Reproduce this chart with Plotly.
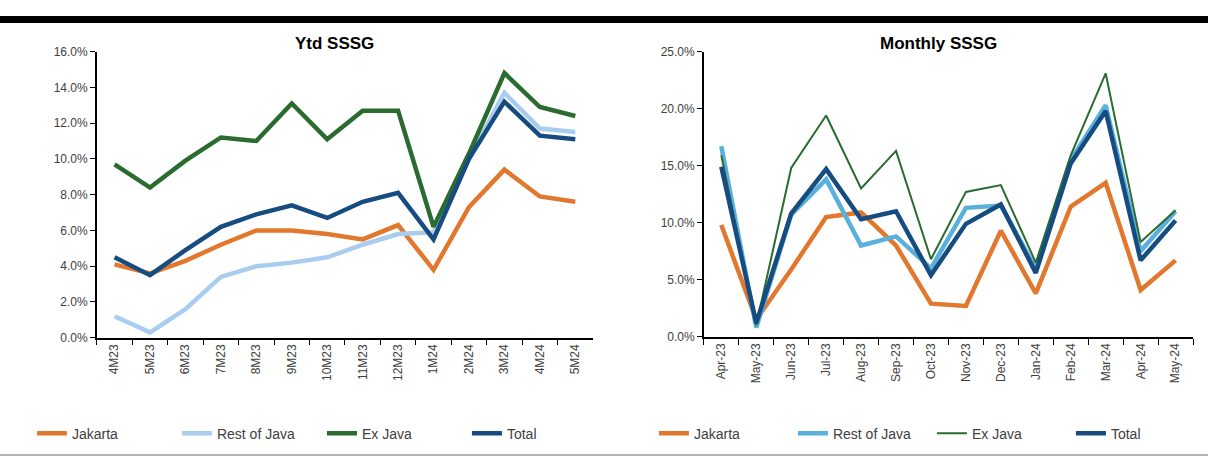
import plotly.graph_objects as go

ytd_labels = ["4M23", "5M23", "6M23", "7M23", "8M23", "9M23", "10M23", "11M23",
              "12M23", "1M24", "2M24", "3M24", "4M24", "5M24"]
ytd_jakarta = [4.1, 3.6, 4.3, 5.2, 6.0, 6.0, 5.8, 5.5, 6.3, 3.8, 7.3, 9.4, 7.9, 7.6]
ytd_rest_java = [1.2, 0.3, 1.6, 3.4, 4.0, 4.2, 4.5, 5.2, 5.8, 5.9, 10.0, 13.7, 11.7, 11.5]
ytd_ex_java = [9.7, 8.4, 9.9, 11.2, 11.0, 13.1, 11.1, 12.7, 12.7, 6.2, 10.3, 14.8, 12.9, 12.4]
ytd_total = [4.5, 3.5, 4.9, 6.2, 6.9, 7.4, 6.7, 7.6, 8.1, 5.5, 10.0, 13.2, 11.3, 11.1]

mon_labels = ["Apr-23", "May-23", "Jun-23", "Jul-23", "Aug-23", "Sep-23", "Oct-23",
              "Nov-23", "Dec-23", "Jan-24", "Feb-24", "Mar-24", "Apr-24", "May-24"]
mon_jakarta = [9.8, 1.5, 5.9, 10.5, 10.9, 8.0, 2.9, 2.7, 9.3, 3.8, 11.4, 13.5, 4.1, 6.7]
mon_rest_java = [16.7, 0.8, 10.7, 13.8, 8.0, 8.8, 6.0, 11.3, 11.5, 6.0, 15.5, 20.3, 7.5, 11.0]
mon_ex_java = [15.9, 1.0, 14.8, 19.4, 13.0, 16.3, 6.8, 12.7, 13.3, 6.5, 15.9, 23.1, 8.3, 11.1]
mon_total = [14.9, 1.2, 10.8, 14.7, 10.3, 11.0, 5.4, 9.9, 11.6, 5.6, 15.2, 19.8, 6.7, 10.2]

ORANGE = "#E2782D"
LIGHTBLUE_L = "#A9CDEE"
LIGHTBLUE_R = "#5AB0DD"
GREEN = "#2A6B2F"
NAVY = "#164C80"
FONT = "Liberation Sans"
GREY = "#404040"

fig = go.Figure()

left = [("Jakarta", ytd_jakarta, ORANGE, 4.5),
        ("Rest of Java", ytd_rest_java, LIGHTBLUE_L, 4.5),
        ("Ex Java", ytd_ex_java, GREEN, 4.5),
        ("Total", ytd_total, NAVY, 4.5)]
for name, vals, col, w in left:
    fig.add_trace(go.Scatter(x=ytd_labels, y=vals, name=name, mode="lines",
                             line=dict(color=col, width=w),
                             xaxis="x", yaxis="y", legend="legend"))

right = [("Jakarta", mon_jakarta, ORANGE, 4.5),
         ("Rest of Java", mon_rest_java, LIGHTBLUE_R, 4.5),
         ("Ex Java", mon_ex_java, GREEN, 2),
         ("Total", mon_total, NAVY, 4.5)]
for name, vals, col, w in right:
    fig.add_trace(go.Scatter(x=mon_labels, y=vals, name=name, mode="lines",
                             line=dict(color=col, width=w),
                             xaxis="x2", yaxis="y2", legend="legend2"))

W, H = 1210, 465
def px(x):
    return x / W
def py(y):
    return 1 - y / H

def xaxis_style():
    return dict(showline=True, linecolor="black", linewidth=1.5, showgrid=False,
                zeroline=False, ticks="outside", ticklen=6, tickcolor="black",
                tickfont=dict(family=FONT, size=12, color=GREY),
                type="category", tickangle=-90, tickson="boundaries",
                range=[-0.5, 13.5])

def yaxis_style():
    return dict(showline=True, linecolor="black", linewidth=1.5, showgrid=False,
                zeroline=False, ticks="outside", ticklen=5, tickcolor="black",
                tickfont=dict(family=FONT, size=12, color=GREY),
                tickformat=".1f", ticksuffix="%")

legend_font = dict(family=FONT, size=14, color=GREY)

fig.update_layout(
    width=W, height=H,
    margin=dict(l=0, r=0, t=0, b=0),
    paper_bgcolor="white", plot_bgcolor="white",
    font=dict(family=FONT, color=GREY),
    xaxis=dict(domain=[px(97), px(594)], anchor="y", **xaxis_style()),
    yaxis=dict(domain=[py(341), py(46)], anchor="x", range=[0, 16], dtick=2, **yaxis_style()),
    xaxis2=dict(domain=[px(705), px(1195)], anchor="y2", **xaxis_style()),
    yaxis2=dict(domain=[py(340), py(46)], anchor="x2", range=[0, 25], dtick=5, **yaxis_style()),
    legend=dict(orientation="h", x=px(32), y=py(440), xanchor="left", yanchor="middle",
                font=legend_font, bgcolor="rgba(0,0,0,0)",
                entrywidth=100, entrywidthmode="pixels"),
    legend2=dict(orientation="h", x=px(655), y=py(440), xanchor="left", yanchor="middle",
                 font=legend_font, bgcolor="rgba(0,0,0,0)",
                 entrywidth=94, entrywidthmode="pixels"),
    annotations=[
        dict(text="<b>Ytd SSSG</b>", x=px(335), y=py(38), xref="paper", yref="paper",
             showarrow=False, xanchor="center", yanchor="middle",
             font=dict(family=FONT, size=17, color="black")),
        dict(text="<b>Monthly SSSG</b>", x=px(940), y=py(38), xref="paper", yref="paper",
             showarrow=False, xanchor="center", yanchor="middle",
             font=dict(family=FONT, size=17, color="black")),
    ],
    shapes=[
        dict(type="line", xref="paper", yref="paper", x0=0, x1=1, y0=py(13), y1=py(13),
             line=dict(color="black", width=7)),
        dict(type="line", xref="paper", yref="paper", x0=0, x1=1, y0=py(462), y1=py(462),
             line=dict(color="#9a9a9a", width=1.5)),
    ],
)

fig.write_html("out.html")
